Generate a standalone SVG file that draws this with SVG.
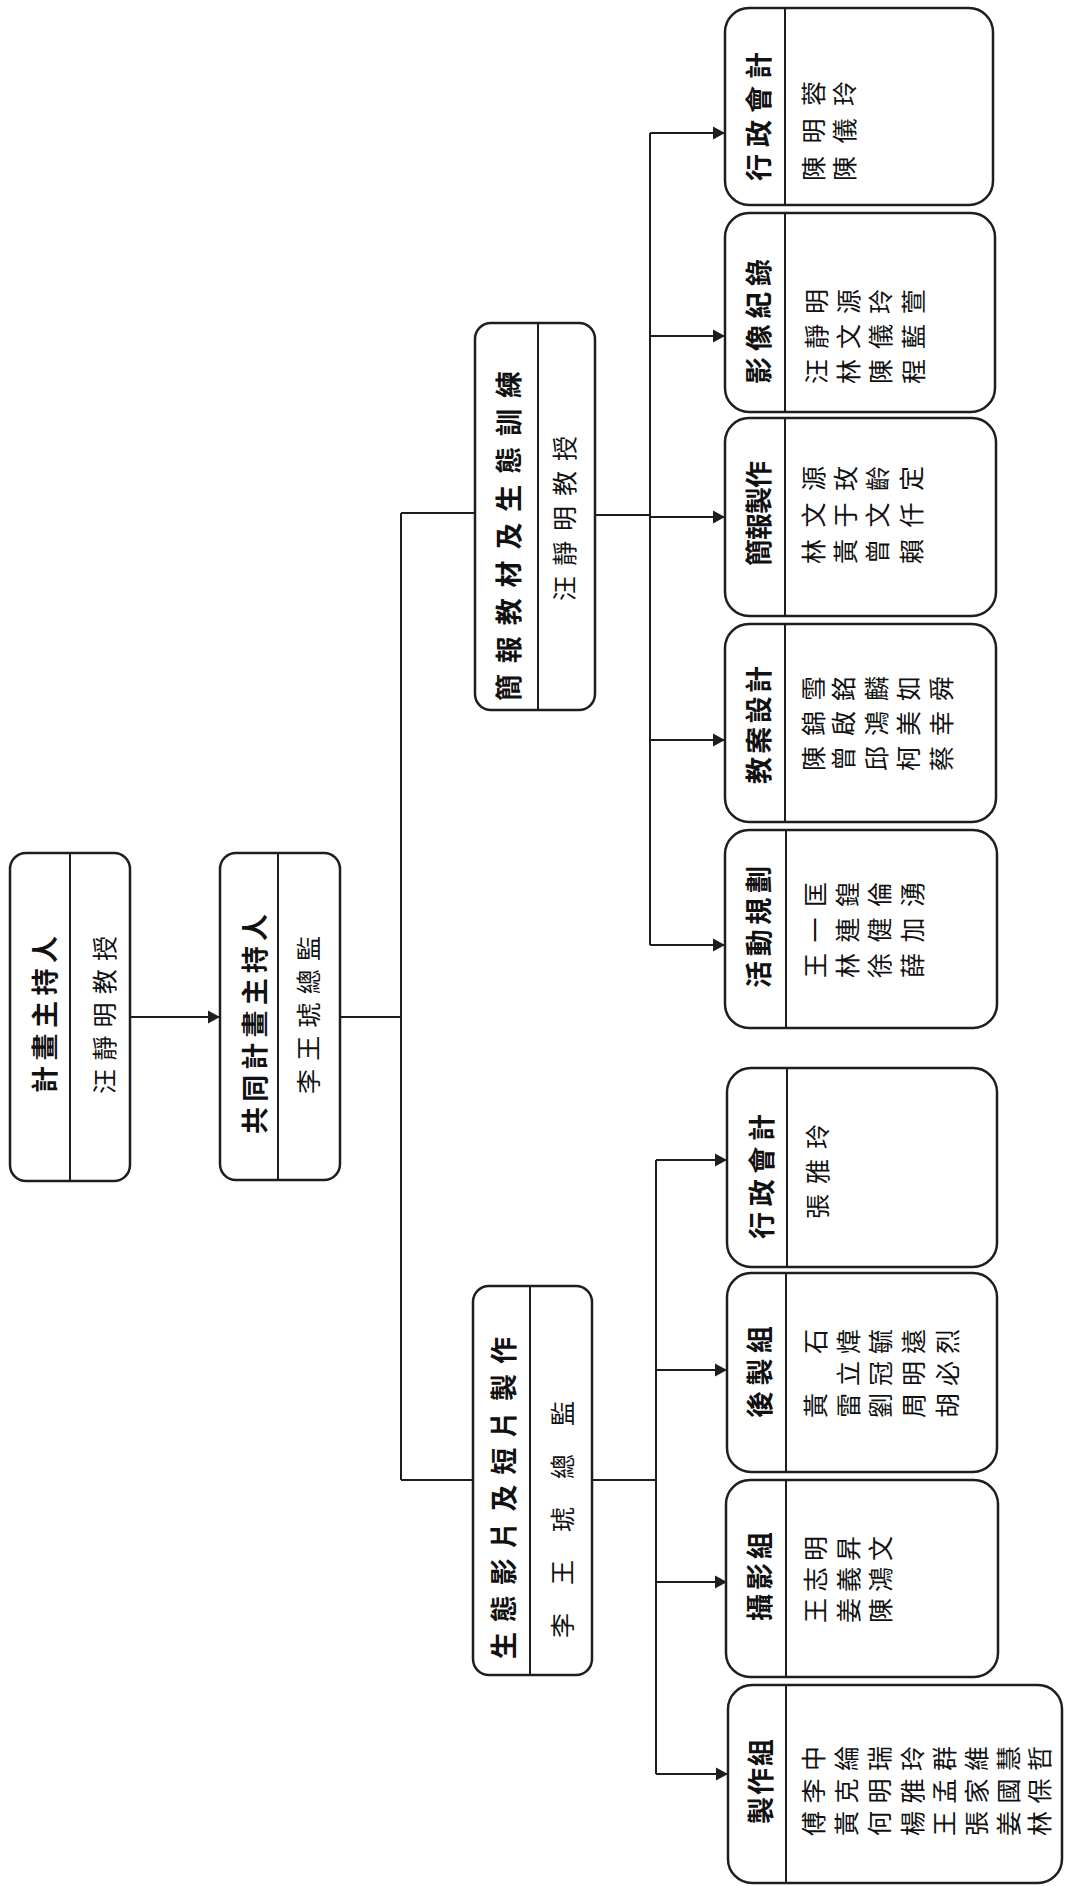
<svg xmlns="http://www.w3.org/2000/svg" width="1065" height="1886" viewBox="0 0 1065 1886">
<style>
.box{fill:#fff;stroke:#1e1e1e;stroke-width:2.5}
.dv{stroke:#1e1e1e;stroke-width:2}
.t{font-family:"Noto Sans CJK TC","Noto Sans CJK SC",sans-serif;font-size:27px;font-weight:700;fill:#111;dominant-baseline:central}
.n{font-family:"Noto Sans CJK TC","Noto Sans CJK SC",sans-serif;font-size:25px;font-weight:400;fill:#111;dominant-baseline:central}
#connectors path{stroke:#1e1e1e;stroke-width:2;fill:none}
</style>
<defs>
<marker id="arr" markerUnits="userSpaceOnUse" markerWidth="14" markerHeight="14" refX="12" refY="7" orient="auto">
<path d="M0,0.5 L12,7 L0,13.5 Z" fill="#1e1e1e"/>
</marker>
</defs>
<rect width="1065" height="1886" fill="#fff"/>

<g id="connectors">
<path d="M130,1017 H220" marker-end="url(#arr)"/>
<path d="M340,1017 H401"/>
<path d="M401,513 V1480"/>
<path d="M401,513 H475"/>
<path d="M401,1480 H473"/>
<path d="M595,515 H650"/>
<path d="M650,133 V945"/>
<path d="M650,133 H725" marker-end="url(#arr)"/>
<path d="M650,336 H725" marker-end="url(#arr)"/>
<path d="M650,517 H725" marker-end="url(#arr)"/>
<path d="M650,740 H725" marker-end="url(#arr)"/>
<path d="M650,945 H725" marker-end="url(#arr)"/>
<path d="M592,1480 H656"/>
<path d="M656,1160 V1774"/>
<path d="M656,1160 H727" marker-end="url(#arr)"/>
<path d="M656,1370 H727" marker-end="url(#arr)"/>
<path d="M656,1582 H727" marker-end="url(#arr)"/>
<path d="M656,1774 H728" marker-end="url(#arr)"/>
</g>

<g id="node-pi" transform="translate(10,1181) rotate(-90)">
<rect class="box" x="0" y="0" width="328" height="120" rx="16"/>
<line class="dv" x1="0" y1="60" x2="328" y2="60"/>
<text class="t" x="88" y="33" textLength="157" lengthAdjust="spacing">計畫主持人</text>
<text class="n" x="87" y="93" textLength="158" lengthAdjust="spacing">汪靜明教授</text>
</g>

<g id="node-copi" transform="translate(220,1180) rotate(-90)">
<rect class="box" x="0" y="0" width="327" height="120" rx="16"/>
<line class="dv" x1="0" y1="58" x2="327" y2="58"/>
<text class="t" x="46" y="33" textLength="220" lengthAdjust="spacing">共同計畫主持人</text>
<text class="n" x="86" y="87" textLength="158" lengthAdjust="spacing">李王琥總監</text>
</g>

<g id="node-edu" transform="translate(475,710) rotate(-90)">
<rect class="box" x="0" y="0" width="387" height="120" rx="16"/>
<line class="dv" x1="0" y1="63" x2="387" y2="63"/>
<text class="t" x="9" y="32" textLength="330" lengthAdjust="spacing">簡報教材及生態訓練</text>
<text class="n" x="109" y="88" textLength="165" lengthAdjust="spacing">汪靜明教授</text>
</g>

<g id="node-film" transform="translate(473,1675) rotate(-90)">
<rect class="box" x="0" y="0" width="389" height="119" rx="16"/>
<line class="dv" x1="0" y1="57" x2="389" y2="57"/>
<text class="t" x="16" y="29" textLength="322" lengthAdjust="spacing">生態影片及短片製作</text>
<text class="n" x="37" y="88" textLength="237" lengthAdjust="spacing">李王琥總監</text>
</g>

<g id="leaf-admin-a" transform="translate(725,205) rotate(-90)">
<rect class="box" x="0" y="0" width="197" height="268" rx="24"/>
<line class="dv" x1="0" y1="60" x2="197" y2="60"/>
<text class="t" x="24" y="32" textLength="129" lengthAdjust="spacing">行政會計</text>
<text class="n" x="24" y="87" textLength="100" lengthAdjust="spacing">陳明蓉</text>
<text class="n" x="24" y="118" textLength="100" lengthAdjust="spacing">陳儀玲</text>
</g>

<g id="leaf-video" transform="translate(725,412) rotate(-90)">
<rect class="box" x="0" y="0" width="199" height="270" rx="24"/>
<line class="dv" x1="0" y1="60" x2="199" y2="60"/>
<text class="t" x="28" y="32" textLength="125" lengthAdjust="spacing">影像紀錄</text>
<text class="n" x="28" y="90" textLength="95" lengthAdjust="spacing">汪靜明</text>
<text class="n" x="28" y="122" textLength="95" lengthAdjust="spacing">林文源</text>
<text class="n" x="28" y="154" textLength="95" lengthAdjust="spacing">陳儀玲</text>
<text class="n" x="28" y="187" textLength="95" lengthAdjust="spacing">程藍萱</text>
</g>

<g id="leaf-brief" transform="translate(725,616) rotate(-90)">
<rect class="box" x="0" y="0" width="198" height="271" rx="24"/>
<line class="dv" x1="0" y1="60" x2="198" y2="60"/>
<text class="t" x="50" y="32" textLength="105" lengthAdjust="spacing">簡報製作</text>
<text class="n" x="52" y="87" textLength="98" lengthAdjust="spacing">林文源</text>
<text class="n" x="52" y="119" textLength="98" lengthAdjust="spacing">黃于玫</text>
<text class="n" x="52" y="151" textLength="98" lengthAdjust="spacing">曾文齡</text>
<text class="n" x="52" y="185" textLength="98" lengthAdjust="spacing">賴仟定</text>
</g>

<g id="leaf-lesson" transform="translate(725,822) rotate(-90)">
<rect class="box" x="0" y="0" width="198" height="271" rx="24"/>
<line class="dv" x1="0" y1="60" x2="198" y2="60"/>
<text class="t" x="38" y="32" textLength="118" lengthAdjust="spacing">教案設計</text>
<text class="n" x="51" y="87" textLength="95" lengthAdjust="spacing">陳錦雪</text>
<text class="n" x="51" y="117" textLength="95" lengthAdjust="spacing">曾啟銘</text>
<text class="n" x="51" y="150" textLength="95" lengthAdjust="spacing">邱鴻麟</text>
<text class="n" x="51" y="182" textLength="95" lengthAdjust="spacing">柯美如</text>
<text class="n" x="51" y="215" textLength="95" lengthAdjust="spacing">蔡幸舜</text>
</g>

<g id="leaf-event" transform="translate(725,1028) rotate(-90)">
<rect class="box" x="0" y="0" width="198" height="272" rx="24"/>
<line class="dv" x1="0" y1="61" x2="198" y2="61"/>
<text class="t" x="40" y="32" textLength="122" lengthAdjust="spacing">活動規劃</text>
<text class="n" x="50" y="89" textLength="96" lengthAdjust="spacing">王一匡</text>
<text class="n" x="50" y="121" textLength="96" lengthAdjust="spacing">林連鍠</text>
<text class="n" x="50" y="153" textLength="96" lengthAdjust="spacing">徐健倫</text>
<text class="n" x="50" y="186" textLength="96" lengthAdjust="spacing">薛加湧</text>
</g>

<g id="leaf-admin-b" transform="translate(727,1267) rotate(-90)">
<rect class="box" x="0" y="0" width="199" height="270" rx="24"/>
<line class="dv" x1="0" y1="60" x2="199" y2="60"/>
<text class="t" x="28" y="33" textLength="125" lengthAdjust="spacing">行政會計</text>
<text class="n" x="48" y="89" textLength="95" lengthAdjust="spacing">張雅玲</text>
</g>

<g id="leaf-post" transform="translate(727,1472) rotate(-90)">
<rect class="box" x="0" y="0" width="199" height="270" rx="24"/>
<line class="dv" x1="0" y1="59" x2="199" y2="59"/>
<text class="t" x="54" y="31" textLength="92" lengthAdjust="spacing">後製組</text>
<text class="n" x="54" y="87" textLength="89" lengthAdjust="spacing">黃　石</text>
<text class="n" x="54" y="120" textLength="89" lengthAdjust="spacing">雷立煒</text>
<text class="n" x="54" y="152" textLength="89" lengthAdjust="spacing">劉冠毓</text>
<text class="n" x="54" y="185" textLength="89" lengthAdjust="spacing">周明遠</text>
<text class="n" x="54" y="219" textLength="89" lengthAdjust="spacing">胡必烈</text>
</g>

<g id="leaf-camera" transform="translate(726,1677) rotate(-90)">
<rect class="box" x="0" y="0" width="197" height="272" rx="24"/>
<line class="dv" x1="0" y1="60" x2="197" y2="60"/>
<text class="t" x="56" y="32" textLength="89" lengthAdjust="spacing">攝影組</text>
<text class="n" x="54" y="88" textLength="87" lengthAdjust="spacing">王志明</text>
<text class="n" x="54" y="121" textLength="87" lengthAdjust="spacing">姜義昇</text>
<text class="n" x="54" y="153" textLength="87" lengthAdjust="spacing">陳鴻文</text>
</g>

<g id="leaf-make" transform="translate(728,1883) rotate(-90)">
<rect class="box" x="0" y="0" width="198" height="334" rx="24"/>
<line class="dv" x1="0" y1="58" x2="198" y2="58"/>
<text class="t" x="59" y="31" textLength="85" lengthAdjust="spacing">製作組</text>
<text class="n" x="47" y="84" textLength="90" lengthAdjust="spacing">傅李中</text>
<text class="n" x="47" y="117" textLength="90" lengthAdjust="spacing">黃克綸</text>
<text class="n" x="47" y="150" textLength="90" lengthAdjust="spacing">何明瑞</text>
<text class="n" x="47" y="183" textLength="90" lengthAdjust="spacing">楊雅玲</text>
<text class="n" x="47" y="215" textLength="90" lengthAdjust="spacing">王孟群</text>
<text class="n" x="47" y="247" textLength="90" lengthAdjust="spacing">張家維</text>
<text class="n" x="47" y="279" textLength="90" lengthAdjust="spacing">姜國慧</text>
<text class="n" x="47" y="310" textLength="90" lengthAdjust="spacing">林保哲</text>
</g>
</svg>
